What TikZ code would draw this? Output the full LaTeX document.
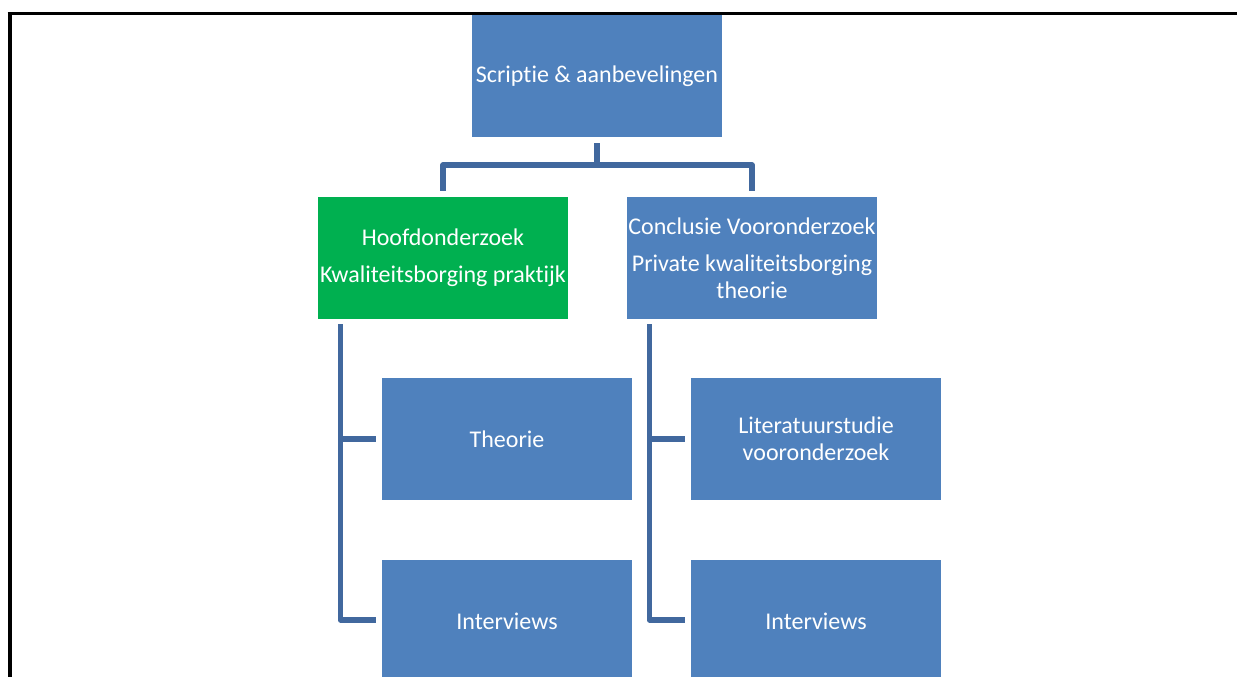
\documentclass[tikz,border=0pt]{standalone}
\usepackage{fontspec}
\setmainfont{Carlito}[Ligatures=NoCommon]
\usetikzlibrary{calc}
\definecolor{boxblue}{RGB}{79,129,189}
\definecolor{boxgreen}{RGB}{0,176,80}
\definecolor{linkblue}{RGB}{65,104,158}
\tikzset{
  stepbox/.style={rectangle, fill=boxblue, draw=none, minimum width=250pt, minimum height=122pt,
    inner sep=0pt, text=white, align=center, font=\fontsize{24}{27}\selectfont},
  mainbox/.style={stepbox, fill=boxgreen},
  conn/.style={draw=linkblue, line width=5.2pt, line join=round}
}
\begin{document}
\begin{tikzpicture}[x=1pt, y=-1pt]
  \useasboundingbox (0,0) rectangle (1237,677);
  \clip (0,0) rectangle (1237,677);
  \fill[white] (0,0) rectangle (1237,677);

  % page frame (left and top edges)
  \draw[line width=4.6pt] (9.9,680) -- (9.9,11.8);
  \draw[line width=3.4pt] (7.6,13.5) -- (1240,13.5);

  % boxes
  \node[stepbox] (top)   at (597,76)  {Scriptie \& aanbevelingen};
  \node[mainbox] (hoof)  at (443,258) {Hoofdonderzoek\\[10pt]Kwaliteitsborging praktijk};
  \node[stepbox] (concl) at (752,258) {Conclusie Vooronderzoek\\[10pt]Private kwaliteitsborging\\theorie};
  \node[stepbox] (theo)  at (507,439) {Theorie};
  \node[stepbox] (intL)  at (507,621) {Interviews};
  \node[stepbox] (lit)   at (816,439) {Literatuurstudie\\vooronderzoek};
  \node[stepbox] (intR)  at (816,621) {Interviews};

  % top level connectors
  \coordinate (bus) at (597,165);
  \draw[conn] ($(top.south)+(0,6)$) -- (bus);
  \draw[conn] ($(hoof.north)+(0,-6)$) |- (bus) -| ($(concl.north)+(0,-6)$);

  % left branch
  \coordinate (tL) at ($(hoof.south west)+(22.5,5)$);
  \draw[conn] (tL) |- ($(intL.west)+(-6,-1)$);
  \draw[conn] (tL |- theo.west) -- ($(theo.west)+(-6,0)$);

  % right branch
  \coordinate (tR) at ($(concl.south west)+(22.5,5)$);
  \draw[conn] (tR) |- ($(intR.west)+(-6,-1)$);
  \draw[conn] (tR |- lit.west) -- ($(lit.west)+(-6,0)$);
\end{tikzpicture}
\end{document}
